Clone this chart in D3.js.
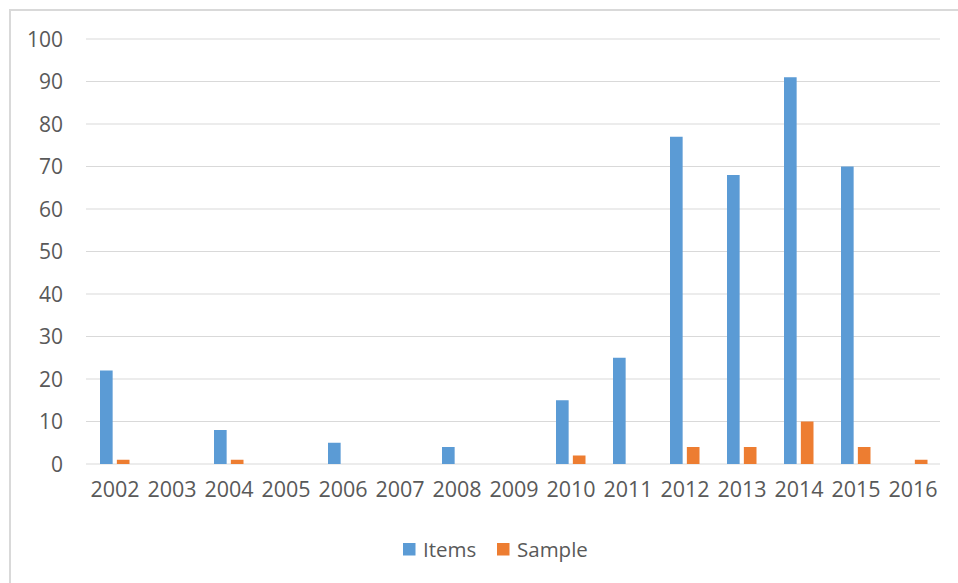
<!DOCTYPE html>
<html>
<head>
<meta charset="utf-8">
<script src="https://cdn.jsdelivr.net/npm/d3@7"></script>
<style>
  body { margin: 0; background: #fff; }
  text { font-family: "Open Sans", sans-serif; fill: #595959; }
</style>
</head>
<body>
<div id="chart"></div>
<script>
// Data
const years = ["2002", "2003", "2004", "2005", "2006", "2007", "2008", "2009",
               "2010", "2011", "2012", "2013", "2014", "2015", "2016"];
const items = [22, 0, 8, 0, 5, 0, 4, 0, 15, 25, 77, 68, 91, 70, 0];
const sample = [1, 0, 1, 0, 0, 0, 0, 0, 2, 0, 4, 4, 10, 4, 1];
const seriesNames = ["Items", "Sample"];
const seriesColors = ["#5B9BD5", "#ED7D31"];
const yTicks = [0, 10, 20, 30, 40, 50, 60, 70, 80, 90, 100];

const W = 958, H = 583;
const plot = { left: 86, right: 940, top: 39, bottom: 464 };

const svg = d3.select("#chart")
    .append("svg")
    .attr("width", W)
    .attr("height", H);

// chart frame (cropped on right and bottom)
svg.append("path")
    .attr("d", `M10,${H + 5} L10,10 L${W + 5},10`)
    .attr("fill", "none")
    .attr("stroke", "#D9D9D9")
    .attr("stroke-width", 2);

// Scales
const x0 = d3.scaleBand()
    .domain(years)
    .range([plot.left - 1, plot.right])
    .padding(0);

const x1 = d3.scaleBand()
    .domain(seriesNames)
    .range([15, x0.bandwidth() - 12.5])
    .paddingInner(0.25);

const y = d3.scaleLinear()
    .domain([0, 100])
    .range([plot.bottom, plot.top]);

// Gridlines
svg.append("g")
    .selectAll("line")
    .data(yTicks)
    .enter()
    .append("line")
    .attr("x1", plot.left)
    .attr("x2", plot.right)
    .attr("y1", d => y(d))
    .attr("y2", d => y(d))
    .attr("stroke", "#D9D9D9")
    .attr("stroke-width", 1);

// Y axis labels
const yAxis = svg.append("g")
    .attr("transform", `translate(${plot.left - 23},0)`)
    .call(d3.axisLeft(y).tickValues(yTicks).tickSize(0).tickPadding(0));
yAxis.select(".domain").remove();
yAxis.selectAll("text")
    .style("font-size", "21px")
    .style("font-family", "'Open Sans', sans-serif")
    .attr("fill", "#595959")
    .attr("dy", "0.35em");

// X axis labels
const xAxis = svg.append("g")
    .attr("transform", `translate(0,${plot.bottom + 18})`)
    .call(d3.axisBottom(x0).tickSize(0).tickPadding(0));
xAxis.select(".domain").remove();
xAxis.selectAll("text")
    .style("font-size", "21.5px")
    .style("font-family", "'Open Sans', sans-serif")
    .attr("fill", "#595959")
    .attr("dx", "1.5");

// Bars
const rows = years.map((yr, i) => ({ year: yr, values: [items[i], sample[i]] }));

const groups = svg.append("g")
    .selectAll("g")
    .data(rows)
    .enter()
    .append("g")
    .attr("transform", d => `translate(${x0(d.year)},0)`);

groups.selectAll("rect")
    .data(d => d.values.map((v, j) => ({ key: seriesNames[j], value: v, color: seriesColors[j] })))
    .enter()
    .filter(d => d.value > 0)
    .append("rect")
    .attr("x", d => x1(d.key))
    .attr("y", d => y(d.value))
    .attr("width", x1.bandwidth())
    .attr("height", d => y(0) - y(d.value))
    .attr("fill", d => d.color);

// Legend
const legendX = [403, 497];
const legend = svg.append("g")
    .selectAll("g")
    .data(seriesNames)
    .enter()
    .append("g")
    .attr("transform", (d, i) => `translate(${legendX[i]},543)`);

legend.append("rect")
    .attr("width", 12.5)
    .attr("height", 12.5)
    .attr("fill", (d, i) => seriesColors[i]);

legend.append("text")
    .attr("x", 20)
    .attr("y", 6.5)
    .attr("dy", "0.35em")
    .style("font-size", "20.5px")
    .text(d => d);
</script>
</body>
</html>
